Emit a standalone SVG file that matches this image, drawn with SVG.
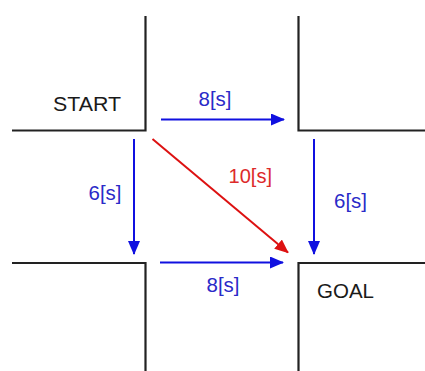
<svg xmlns="http://www.w3.org/2000/svg" width="425" height="371" viewBox="0 0 425 371">
<style>
.wall{fill:none;stroke:#222;stroke-width:2.2;stroke-linejoin:miter}
.blue{stroke:#1010e0;stroke-width:2;fill:none}
.red{stroke:#dd1111;stroke-width:2;fill:none}
.lbl{font-family:"Liberation Sans",Arial,sans-serif;font-size:19.5px}
.bt{fill:#2a2ac8}
.rt{fill:#dd2a2a}
.kt{fill:#1a1a1a}
</style>
<defs>
<marker id="ab" markerUnits="userSpaceOnUse" markerWidth="14" markerHeight="12" refX="13" refY="6" orient="auto">
<path d="M0,0 L14,6 L0,12 Z" fill="#1010e0"/>
</marker>
<marker id="ar" markerUnits="userSpaceOnUse" markerWidth="14" markerHeight="12" refX="13" refY="6" orient="auto">
<path d="M0,0 L14,6 L0,12 Z" fill="#dd1111"/>
</marker>
</defs>
<rect width="425" height="371" fill="#fff"/>
<g id="start">
<path class="wall" d="M145.5,16 V130.5 H12"/>
<text class="lbl kt" x="53" y="111" textLength="68" lengthAdjust="spacingAndGlyphs">START</text>
</g>
<g id="topright">
<path class="wall" d="M298.5,16 V130.5 H425"/>
</g>
<g id="bottomleft">
<path class="wall" d="M12,263 H145.5 V371"/>
</g>
<g id="goal">
<path class="wall" d="M425,263 H298.5 V371"/>
<text class="lbl kt" x="317" y="297.5" textLength="57" lengthAdjust="spacingAndGlyphs">GOAL</text>
</g>
<g id="connectors">
<line class="blue" x1="161" y1="119.5" x2="284" y2="119.5" marker-end="url(#ab)"/>
<line class="blue" x1="134" y1="139" x2="134" y2="254" marker-end="url(#ab)"/>
<line class="blue" x1="314" y1="139" x2="314" y2="254" marker-end="url(#ab)"/>
<line class="blue" x1="160" y1="262.5" x2="283" y2="262.5" marker-end="url(#ab)"/>
<line class="red" x1="152.5" y1="139" x2="288" y2="252.5" marker-end="url(#ar)"/>
<text class="lbl bt" x="198.5" y="106" textLength="33" lengthAdjust="spacingAndGlyphs">8[s]</text>
<text class="lbl bt" x="88.5" y="200" textLength="33" lengthAdjust="spacingAndGlyphs">6[s]</text>
<text class="lbl bt" x="334" y="208" textLength="33" lengthAdjust="spacingAndGlyphs">6[s]</text>
<text class="lbl bt" x="206.5" y="291.5" textLength="33" lengthAdjust="spacingAndGlyphs">8[s]</text>
<text class="lbl rt" x="228.5" y="182.5" textLength="43.5" lengthAdjust="spacingAndGlyphs">10[s]</text>
</g>
</svg>
